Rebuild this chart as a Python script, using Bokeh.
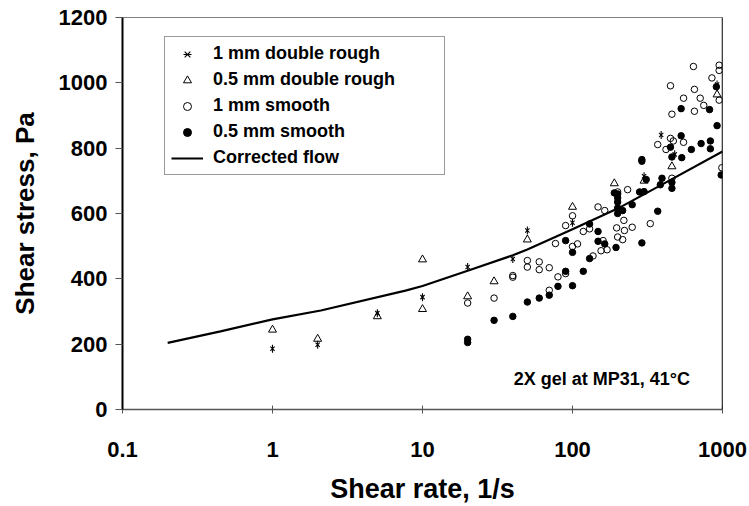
import math
from bokeh.plotting import figure
from bokeh.models import (FixedTicker, Legend, LegendItem, Label, Range1d, Span,
                          CustomJSTickFormatter)
from bokeh.embed import file_html
from bokeh.resources import INLINE

FONT = "Liberation Sans"

# ---- axis ticks ----
x_ticks = [0.1, 1, 10, 100, 1000]
x_tick_labels = ["0.1", "1", "10", "100", "1000"]
y_ticks = [0, 200, 400, 600, 800, 1000, 1200]

# ---- 1 mm double rough (asterisks) ----
dr1_x = [1, 2, 5, 10, 20, 40, 50, 100, 300, 390, 480, 920]
dr1_y = [186, 198, 295, 344, 436, 461, 548, 572, 714, 840, 781, 995]

# ---- 0.5 mm double rough (open triangles) ----
dr05_x = [1, 2, 5, 10, 10, 20, 30, 50, 100, 190, 300, 460, 920]
dr05_y = [244, 216, 285, 459, 307, 346, 392, 520, 620, 692, 700, 744, 964]

# ---- 1 mm smooth (open circles) ----
sm1_x = [20, 30, 40, 40, 50, 50, 60, 60, 70, 70,
         80, 77, 90, 90, 100, 100, 108, 118, 130, 137,
         148, 155, 160, 164, 170, 197, 200, 200, 216, 220,
         222, 233, 250, 330, 370, 420, 450, 450, 460, 460,
         470, 550, 550, 640, 650, 650, 710, 750, 850, 950,
         950, 950, 990]
sm1_y = [326, 341, 405, 410, 456, 436, 452, 428, 434, 365,
         406, 508, 563, 416, 593, 499, 507, 545, 553, 470,
         620, 486, 517, 609, 489, 556, 528, 666, 520, 579,
         548, 673, 558, 569, 811, 796, 991, 830, 904, 708,
         822, 953, 818, 1050, 980, 913, 953, 931, 1015, 1054,
         1038, 947, 740]

# ---- 0.5 mm smooth (filled circles) ----
sm05_x = [20, 20, 30, 40, 50, 60, 70, 80, 90, 90,
          100, 100, 118, 130, 130, 148, 148, 164, 195, 190,
          200, 200, 200, 200, 200, 216, 250, 280, 290, 290,
          290, 300, 310, 370, 385, 395, 450, 460, 460, 460,
          530, 530, 535, 620, 720, 820, 830, 830, 910, 920,
          980]
sm05_y = [205, 215, 273, 285, 329, 341, 350, 377, 517, 423,
          481, 379, 423, 568, 462, 545, 515, 507, 496, 663,
          660, 648, 635, 617, 600, 609, 627, 666, 765, 760,
          510, 667, 704, 607, 688, 708, 803, 773, 695, 677,
          921, 838, 771, 796, 814, 918, 822, 798, 988, 869,
          718]

# ---- Corrected flow (line) ----
cf_x = [0.2, 0.45, 1, 2.1, 7.7, 10, 20, 40, 50, 100, 200, 400, 1000]
cf_y = [204, 239, 276, 303, 364, 378, 425, 472, 490, 552, 615, 690, 790]

p = figure(width=749, height=506, x_axis_type="log",
           x_range=Range1d(0.1, 1000), y_range=Range1d(0, 1200),
           output_backend="svg", toolbar_location=None,
           min_border_left=122, min_border_right=27,
           min_border_top=17, min_border_bottom=96)
p.xgrid.visible = False
p.ygrid.visible = False
p.outline_line_color = "#808080"
p.outline_line_width = 1
p.background_fill_color = "white"
p.border_fill_color = "white"

# x axis
p.xaxis.ticker = FixedTicker(ticks=x_ticks, minor_ticks=[])
p.xaxis.formatter = CustomJSTickFormatter(
    args=dict(tk=x_ticks, lb=x_tick_labels),
    code="""
    for (let i = 0; i < tk.length; i++) {
        if (Math.abs(tk[i] - tick) < 1e-6 * Math.max(1, tk[i])) return lb[i];
    }
    return '';
    """)
p.xaxis.axis_label = "Shear rate, 1/s"
p.xaxis.axis_line_color = "#555555"
p.xaxis.axis_line_width = 1.5
p.xaxis.major_tick_line_color = "#555555"
p.xaxis.major_tick_in = 4
p.xaxis.major_tick_out = 4
p.xaxis.minor_tick_line_color = None
p.xaxis.major_label_standoff = 28
p.xaxis.axis_label_standoff = 14

# y axis
p.yaxis.ticker = FixedTicker(ticks=y_ticks, minor_ticks=[])
p.yaxis.axis_label = "Shear stress, Pa"
p.yaxis.axis_line_color = "black"
p.yaxis.axis_line_width = 2
p.yaxis.major_tick_line_color = "#555555"
p.yaxis.major_tick_in = 0
p.yaxis.major_tick_out = 7
p.yaxis.minor_tick_line_color = None
p.yaxis.major_label_standoff = 8
p.yaxis.axis_label_standoff = 16

for ax in (p.xaxis, p.yaxis):
    ax.major_label_text_font = FONT
    ax.major_label_text_font_style = "bold"
    ax.major_label_text_font_size = "22px"
    ax.major_label_text_color = "black"
    ax.axis_label_text_font = FONT
    ax.axis_label_text_font_style = "bold"
    ax.axis_label_text_color = "black"
p.xaxis.axis_label_text_font_size = "27px"
p.yaxis.axis_label_text_font_size = "26px"

# right frame edge
p.add_layout(Span(location=1000, dimension="height", line_color="black", line_width=1.5))

# data
line_r = p.line(cf_x, cf_y, line_color="black", line_width=2.2)
ast_x = p.scatter(dr1_x, dr1_y, marker="x", size=6, line_color="black", line_width=1.1)
ast_v = p.scatter(dr1_x, dr1_y, marker="dash", angle=math.pi / 2, size=8,
                  line_color="black", line_width=1.1)
tri_r = p.scatter(dr05_x, dr05_y, marker="triangle", size=8, line_color="black",
                  fill_color=None, line_width=1)
c1_r = p.scatter(sm1_x, sm1_y, marker="circle", size=6.5, line_color="black",
                 fill_color="white", fill_alpha=0, line_width=1)
c05_r = p.scatter(sm05_x, sm05_y, marker="circle", size=6.5, line_color="black",
                  fill_color="black", line_width=1)

legend = Legend(items=[
    LegendItem(label="1 mm double rough", renderers=[ast_x, ast_v]),
    LegendItem(label="0.5 mm double rough", renderers=[tri_r]),
    LegendItem(label="1 mm smooth", renderers=[c1_r]),
    LegendItem(label="0.5 mm smooth", renderers=[c05_r]),
    LegendItem(label="Corrected flow", renderers=[line_r]),
], location=(42, 234))
legend.label_text_font = FONT
legend.label_text_font_style = "bold"
legend.label_text_font_size = "18px"
legend.label_text_color = "black"
legend.border_line_color = "#333333"
legend.border_line_width = 1
legend.background_fill_color = "white"
legend.background_fill_alpha = 1
legend.padding = 6
legend.margin = 0
legend.spacing = 5
legend.label_height = 20
legend.glyph_height = 20
legend.glyph_width = 32
legend.label_standoff = 10
legend.label_width = 225
p.add_layout(legend)

p.add_layout(Label(x=40.6, y=94, text="2X gel at MP31, 41°C", text_font=FONT,
                   text_font_style="bold", text_font_size="18px", text_color="black",
                   text_baseline="middle", text_align="left"))

open("out.html", "w").write(file_html(p, INLINE))
